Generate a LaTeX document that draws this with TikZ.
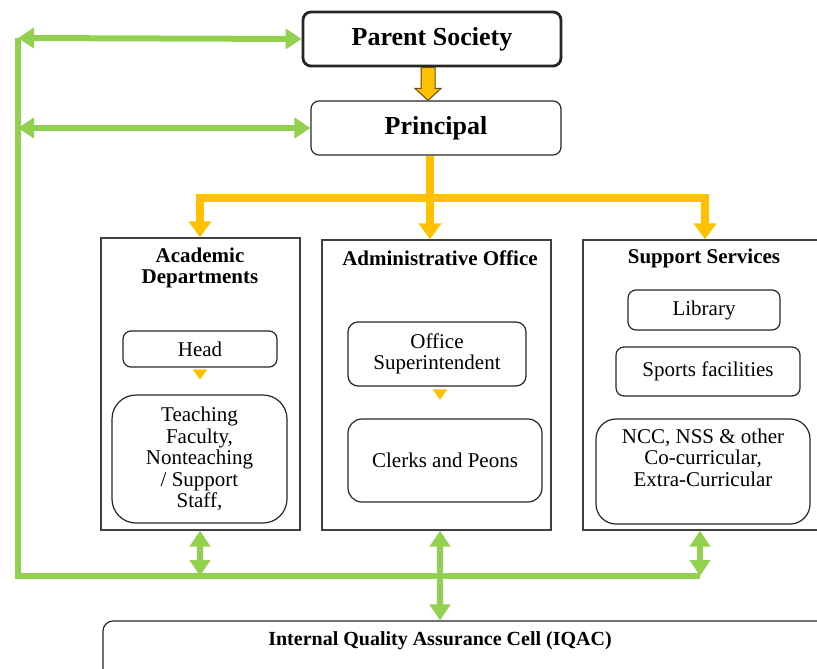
\documentclass[tikz,border=0pt]{standalone}
\usepackage{fontspec}
\setmainfont{Liberation Serif}
\usetikzlibrary{arrows.meta,calc}
\definecolor{leafgreen}{RGB}{146,208,80}
\definecolor{amber}{RGB}{255,192,0}

\begin{document}
\begin{tikzpicture}[x=0.5pt,y=-0.5pt,
    box/.style={draw=black!85, line width=0.6pt, rounded corners=4pt, align=center, inner sep=0pt},
    frame/.style={draw=black!75, line width=0.7pt, inner sep=0pt},
    title/.style={font=\fontsize{10.5}{10.5}\selectfont\bfseries, align=center},
    body/.style={font=\fontsize{10.5}{10.8}\selectfont},
    glink/.style={leafgreen, line width=3pt},
    both ends/.style={leafgreen, line width=3pt, {Triangle[width=10pt,length=8pt]}-{Triangle[width=10pt,length=8pt]}},
    feed/.style={amber, line width=4pt, -{Triangle[width=11pt,length=8pt]}},
    dart/.style={amber, line width=0.1pt, shorten <=2pt, -{Triangle[width=7pt,length=5pt]}},
    blockarrow/.style={fill=amber, draw=black!60!amber, line width=0.5pt}]
    \useasboundingbox (0,0) rectangle (817,668);

    % top of the chart
    \node[box, line width=1.4pt, minimum width=129pt, minimum height=27pt,
          font=\fontsize{13}{13}\selectfont\bfseries] (parent) at (432,39) {Parent Society};
    \node[box, minimum width=125pt, minimum height=27pt,
          font=\fontsize{13}{13}\selectfont\bfseries] (principal) at (436,128) {Principal};

    % three sections
    \node[frame, minimum width=99.5pt, minimum height=146pt] (acad) at (200.5,384) {};
    \node[frame, minimum width=114.5pt, minimum height=145pt] (admin) at (436.5,385) {};
    \node[frame, minimum width=133.5pt, minimum height=145pt] (support) at (716.5,385) {};
    \node[title] (acadtitle) at (200,267.5) {Academic\\Departments};
    \node[title] (admintitle) at (440,258) {Administrative Office};
    \node[title] (supporttitle) at (704,258) {Support Services};

    \node[box, body, minimum width=77pt, minimum height=18pt] (head) at (200,349) {Head};
    \node[box, body, rounded corners=12pt, minimum width=87.5pt, minimum height=64pt] (staff) at (199.5,459)
        {Teaching\\Faculty,\\Nonteaching\\/ Support\\Staff,};
    \node[box, body, rounded corners=5pt, minimum width=89pt, minimum height=32pt] (superint) at (437,354)
        {Office\\Superintendent};
    \node[box, body, rounded corners=7pt, minimum width=97pt, minimum height=41.5pt] (clerks) at (445,460.5)
        {Clerks and Peons};
    \node[box, body, minimum width=76pt, minimum height=20pt] (library) at (704,310) {Library};
    \node[box, body, minimum width=92pt, minimum height=24.5pt] (sports) at (708,371.5) {Sports facilities};
    \node[box, body, rounded corners=10pt, minimum width=107pt, minimum height=52.5pt] (ncc) at (703,471.5)
        {NCC, NSS \& other\\Co-curricular,\\Extra-Curricular\\\strut};

    \node[box, rounded corners=5pt, minimum width=388.5pt, minimum height=49.5pt] (iqac) at (491.5,670.5) {};
    \node[title, font=\fontsize{10}{10}\selectfont\bfseries] (iqactitle) at (440,641)
        {Internal Quality Assurance Cell (IQAC)};

    % orange flow
    \coordinate (blktop) at (428,0 |- parent.south);
    \coordinate (blktip) at (428,0 |- principal.north);
    \draw[blockarrow] ($(blktop)+(-7,0)$) -- ($(blktip)+(-7,-12)$) -- ($(blktip)+(-13,-12)$) -- (blktip)
        -- ($(blktip)+(13,-12)$) -- ($(blktip)+(7,-12)$) -- ($(blktop)+(7,0)$) -- cycle;
    \coordinate (fork) at (430,198);
    \draw[feed] (principal.south -| fork) -- (fork) -| (200,0 |- acad.north);
    \draw[feed] (fork) -| (705,0 |- support.north);
    \draw[feed] (fork) -- (fork |- admin.north);
    \draw[dart] (head.south) -- ++(0,12);
    \draw[dart] (superint.south -| 440,0) -- ++(0,13);

    % green links
    \coordinate (spinetop) at (18,38);
    \coordinate (spinemid) at (18,128);
    \coordinate (spinebot) at (18,576);
    \coordinate (spineend) at (700,576);
    \draw[glink] (spinetop) -- (spinebot) -- (spineend);
    \draw[both ends] (spinetop) -- (parent.west);
    \draw[both ends] (spinemid) -- (principal.west);
    \draw[both ends] (200,0 |- acad.south) -- (200,0 |- spinebot);
    \draw[both ends] (support.south -| spineend) -- (spineend);
    \draw[both ends] (440,0 |- admin.south) -- (440,0 |- iqac.north);
\end{tikzpicture}
\end{document}
